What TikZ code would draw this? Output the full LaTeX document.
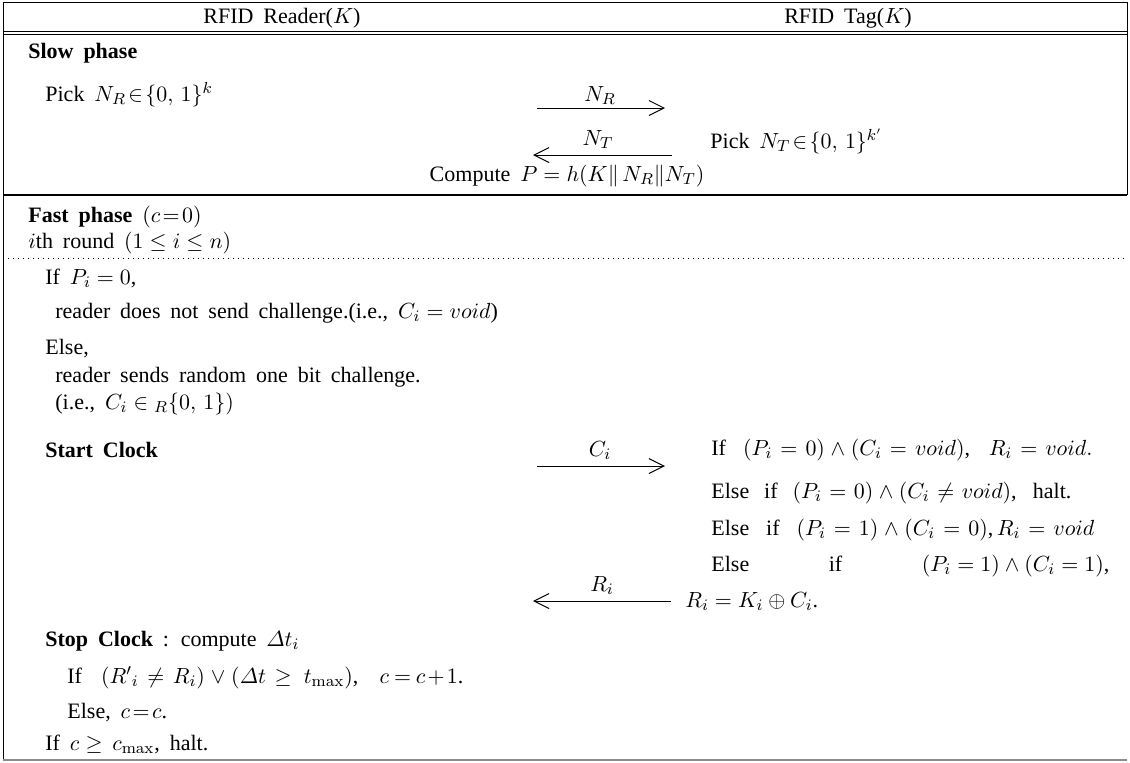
\documentclass[tikz,border=0pt]{standalone}
\usepackage[no-math]{fontspec}
\setmainfont{Liberation Serif}
\usetikzlibrary{arrows.meta}
\newcommand\bodyfont{\fontsize{11}{13}\selectfont\spaceskip 0.45em plus 1em\relax}
\begin{document}
\begin{tikzpicture}[x=0.5pt,y=-0.5pt,
  every node/.style={inner sep=0pt, font=\bodyfont},
  lt/.style={anchor=base west},
  ct/.style={anchor=base},
  rule/.style={line width=0.5pt},
  msg/.style={line width=0.5pt,-{Straight Barb[length=7.5pt,width=7.5pt,line width=0.5pt]}}]
\useasboundingbox (0,0) rectangle (1130,762);
% frame
\draw[rule] (3,2) -- (1127,2);
\draw[rule] (3,2) -- (3,760);
\draw[rule] (1127,2) -- (1127,195);
\draw[rule] (3,31) -- (1127,31);
\draw[rule] (3,34) -- (1127,34);
\draw[line width=0.9pt] (3,195) -- (1127,195);
\draw[line width=0.5pt, dotted] (3,258) -- (1127,258);
\draw[line width=0.6pt, black!45] (3,760) -- (1127,760);
% header
\node[ct] (hr) at (282,23) {RFID Reader($K$)};
\node[ct] (ht) at (848,23) {RFID Tag($K$)};
% slow phase
\node[lt] (slow) at (28,58) {\textbf{Slow phase}};
\node[lt] (pickr) at (45,101) {Pick $N_R\!\in\!\{0,\,1\}^k$};
\coordinate (nrs) at (537,108);
\coordinate (nre) at (665,108);
\draw[msg] (nrs) -- (nre);
\node[ct] (nrl) at (600,101) {$N_R$};
\coordinate (nts) at (672,155);
\coordinate (nte) at (533,155);
\draw[msg] (nts) -- (nte);
\node[ct] (ntl) at (598,145) {$N_T$};
\node[lt] (pickt) at (710,148) {Pick $N_T\!\in\!\{0,\,1\}^{k'}$};
\node[ct] (comp) at (567,181) {Compute $P=h\bigl(K\|\,N_R\|N_T\bigr)$};
% fast phase
\node[lt] (fast) at (28,222) {\textbf{Fast phase} $(c\!=\!0)$};
\node[lt] (round) at (28,248) {$i$th round $(1\le i\le n)$};
\node[lt] (if0) at (45,284) {If $P_i=0$,};
\node[lt] (nosend) at (55,318) {reader does not send challenge.(i.e., $C_i=void$)};
\node[lt] (else0) at (45,354) {Else,};
\node[lt] (send) at (55,382) {reader sends random one bit challenge.};
\node[lt] (ie) at (55,409) {(i.e., $C_i\in{}_R\{0,\,1\})$};
\node[lt] (start) at (45,457) {\textbf{Start Clock}};
\coordinate (cis) at (537,466);
\coordinate (cie) at (665,466);
\draw[msg] (cis) -- (cie);
\node[ct] (cil) at (600,456) {$C_i$};
\node[lt] (t1) at (711,455) {\makebox[190.5pt][s]{If $(P_i=0)\wedge(C_i=void)$, $R_i=void.$}};
\node[lt] (t2) at (711,498) {\makebox[180pt][s]{Else if $(P_i=0)\wedge(C_i\neq void)$, halt.}};
\node[lt] (t3) at (711,535) {\makebox[191.5pt][s]{Else if $(P_i=1)\wedge(C_i=0)$,\,$R_i=void$}};
\node[lt] (t4) at (711,571) {\makebox[199pt][s]{Else\hfill if\hfill $(P_i=1)\wedge(C_i=1)$,}};
\coordinate (ris) at (671,601);
\coordinate (rie) at (533,601);
\draw[msg] (ris) -- (rie);
\node[ct] (ril) at (602,591) {$R_i$};
\node[lt] (t5) at (685,607) {$R_i=K_i\oplus C_i$.};
\node[lt] (stop) at (45,646) {\textbf{Stop Clock} : compute $\mathnormal{\Delta} t_i$};
\node[lt] (chk) at (67,683) {\makebox[198pt][s]{If $\bigl(R'{}_i\neq R_i\bigr)\vee\bigl(\mathnormal{\Delta} t\ge\, t_{\max}\bigr)$, $c\!=\!c\!+\!1$.}};
\node[lt] (else1) at (67,718) {Else, $c\!=\!c$.};
\node[lt] (halt) at (45,750) {If $c\ge\, c_{\max}$, halt.};
\end{tikzpicture}
\end{document}
